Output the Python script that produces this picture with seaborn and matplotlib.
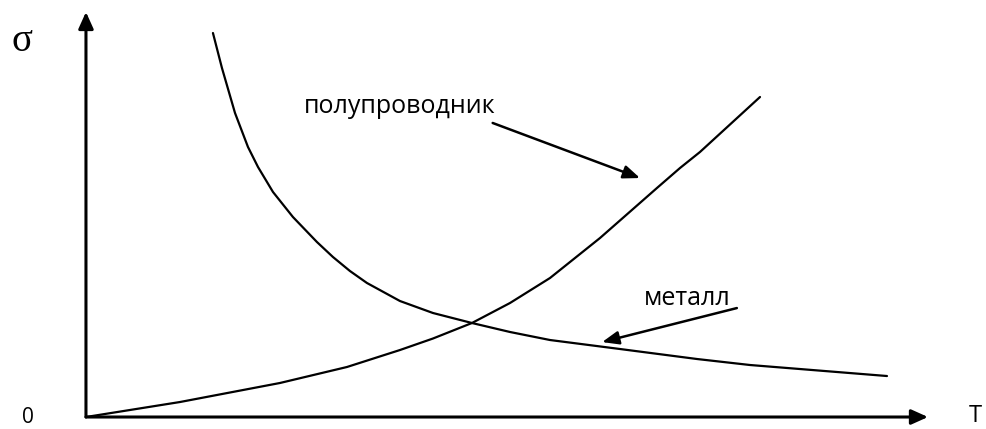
import matplotlib
matplotlib.use("Agg")
import matplotlib.pyplot as plt
import seaborn as sns
import pandas as pd

# --- data (arbitrary units, T axis 0..100, sigma axis 0..100) ---
metal_T = [15.08, 16.15, 17.70, 19.24, 20.43, 22.21, 24.58, 27.43, 29.33, 31.35,
           33.37, 37.29, 41.21, 45.84, 50.36, 55.11, 63.42, 72.57, 78.86, 95.13]
metal_sigma = [94.81, 86.17, 75.06, 66.67, 61.73, 55.56, 49.38, 43.21, 39.51, 36.05,
               33.09, 28.64, 25.68, 23.21, 20.99, 19.01, 16.79, 14.32, 12.84, 10.12]

semi_T = [0.0, 11.16, 23.04, 31.00, 37.29, 41.21, 45.84, 50.36, 55.11, 61.05,
          67.81, 70.55, 72.92, 80.05]
semi_sigma = [0.0, 3.70, 8.40, 12.35, 16.54, 19.38, 23.21, 28.15, 34.32, 44.20,
              56.54, 61.48, 65.43, 79.01]

label_semi = "полупроводник"
label_metal = "металл"
axis_y_label = "σ"
axis_x_label = "T"
origin_label = "0"

sns.set_style("white")
plt.rcParams['font.family'] = ['Open Sans', 'DejaVu Sans']
plt.rcParams['text.color'] = 'black'

fig = plt.figure(figsize=(9.86, 4.29), dpi=100)
ax = fig.add_axes([0, 0, 1, 1])

df_m = pd.DataFrame({"T": metal_T, "s": metal_sigma})
df_s = pd.DataFrame({"T": semi_T, "s": semi_sigma})
sns.lineplot(data=df_m, x="T", y="s", ax=ax, color="black", lw=1.6, sort=False,
             solid_joinstyle="round")
sns.lineplot(data=df_s, x="T", y="s", ax=ax, color="black", lw=1.6, sort=False,
             solid_joinstyle="round")

ax.set_xlim(-10.21, 106.89)
ax.set_ylim(-2.96, 102.96)
ax.axis("off")

# axes arrows
arrow_kw = dict(arrowstyle="-|>,head_length=1.0,head_width=0.45", color="black", lw=2.2,
                shrinkA=0, shrinkB=0)
ax.annotate("", xy=(0, 100), xytext=(0, 0), arrowprops=arrow_kw)
ax.annotate("", xy=(100, 0), xytext=(0, 0), arrowprops=arrow_kw)

# label arrows
lab_kw = dict(arrowstyle="-|>,head_length=1.0,head_width=0.4", color="black", lw=1.8,
              shrinkA=0, shrinkB=0)
ax.annotate("", xy=(65.8, 59.0), xytext=(48.3, 72.6), arrowprops=lab_kw)
ax.annotate("", xy=(61.3, 18.5), xytext=(77.3, 26.9), arrowprops=lab_kw)

ax.text(25.9, 75.1, label_semi, ha="left", va="baseline", fontsize=18, color="black")
ax.text(66.2, 27.7, label_metal, ha="left", va="baseline", fontsize=18, color="black")

ax.text(-7.6, 92.6, axis_y_label, ha="center", va="center", fontsize=28, color="black",
        family=["Liberation Serif", "DejaVu Serif"])
ax.text(105.6, -1.23, axis_x_label, ha="center", va="baseline", fontsize=17, color="black")
ax.text(-6.9, -1.48, origin_label, ha="center", va="baseline", fontsize=15, color="black")

fig.savefig("out.png", dpi=100)
